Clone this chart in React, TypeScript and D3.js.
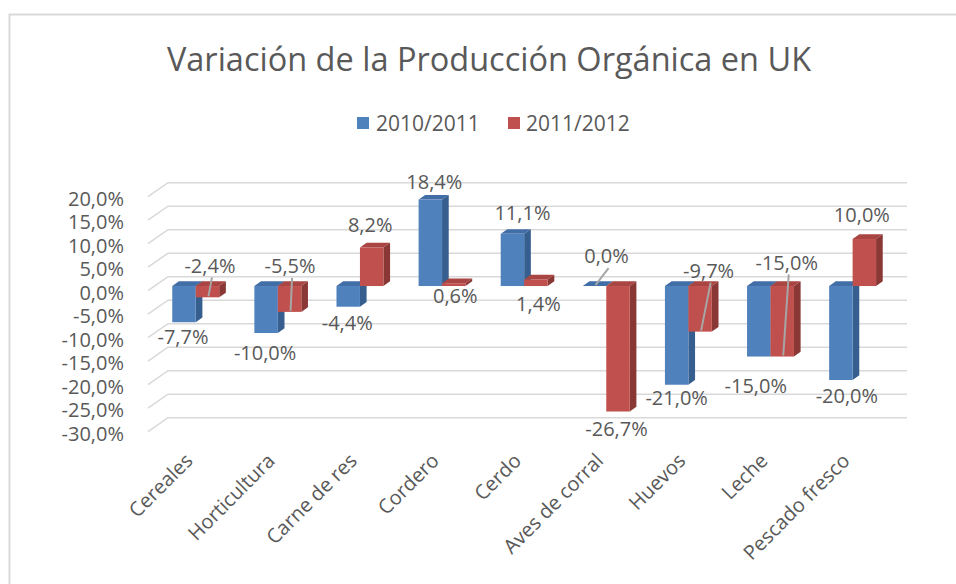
import * as d3 from 'd3';

// chart data
const categories = ['Cereales', 'Horticultura', 'Carne de res', 'Cordero', 'Cerdo', 'Aves de corral', 'Huevos', 'Leche', 'Pescado fresco'];
const seriesNames = ['2010/2011', '2011/2012'];
const values2010 = [-7.7, -10.0, -4.4, 18.4, 11.1, 0.0, -21.0, -15.0, -20.0];
const values2011 = [-2.4, -5.5, 8.2, 0.6, 1.4, -26.7, -9.7, -15.0, 10.0];
const yTicks = [20, 15, 10, 5, 0, -5, -10, -15, -20, -25, -30];

// label nudges (px) from the bar end, as Excel placed them
const nudge2010 = [[-1, 15], [-1, 20], [-1, 16], [4, -18], [10, -21], [12, -30], [0, 13], [-3, 29], [6, 16]];
const nudge2011 = [[2.5, -32], [0.5, -46], [-1.5, -23], [1.5, 13], [2.5, 24], [-1.5, 17], [8.5, -61], [4.5, -94], [-2.5, -24]];
const leader2010 = [5];
const leader2011 = [0, 1, 6, 7];

const W = 956;
const H = 584;
const DX = 20; // depth offset of the floor
const DY = -14;
const Z0 = 1 / 3;
const Z1 = 2 / 3;
const FONT = "'Open Sans', sans-serif";
const TEXT = '#595959';

const palette = [
  { front: '#4f81bd', top: '#416ea6', side: '#365e8f' },
  { front: '#c0504d', top: '#a94542', side: '#8a3836' },
];

const locale = d3.formatLocale({ decimal: ',', thousands: '.', grouping: [3], currency: ['', '€'], minus: '-' });
const fmt = (v: number) => locale.format('.1f')(v) + '%';

const x = d3.scaleBand<string>().domain(categories).range([148, 887]);
const xInner = d3.scaleBand<string>().domain(seriesNames).range([0, x.bandwidth()]).paddingInner(0).paddingOuter(0.75);
const y = d3.scaleLinear().domain([-30, 20]).range([431.7, 196.7]);

const proj = (px: number, v: number, z: number): [number, number] => [px + z * DX, y(v) + z * DY];
const pts = (list: [number, number][]) => list.map(p => p.join(',')).join(' ');

export default function App() {
  const bw = xInner.bandwidth();
  const allSeries = [values2010, values2011];
  const nudges = [nudge2010, nudge2011];
  const leaders = [leader2010, leader2011];

  const bars: JSX.Element[] = [];
  const labels: JSX.Element[] = [];

  categories.forEach((c, i) => {
    seriesNames.forEach((s, si) => {
      const v = allSeries[si][i];
      const x0 = (x(c) as number) + (xInner(s) as number);
      const x1 = x0 + bw;
      const top = Math.max(0, v);
      const bot = Math.min(0, v);
      const col = palette[si];
      const [fx0, fy0] = proj(x0, top, Z0);
      const [fx1, fy1] = proj(x1, bot, Z0);
      bars.push(
        <g key={`${c}-${s}`}>
          <polygon points={pts([proj(x0, top, Z0), proj(x1, top, Z0), proj(x1, top, Z1), proj(x0, top, Z1)])} fill={col.top} />
          <polygon points={pts([proj(x1, top, Z0), proj(x1, top, Z1), proj(x1, bot, Z1), proj(x1, bot, Z0)])} fill={col.side} />
          {v !== 0 && <rect x={fx0} y={fy0} width={fx1 - fx0} height={fy1 - fy0} fill={col.front} />}
        </g>
      );

      const [ax, ay] = proj(x0 + bw / 2, v, Z0);
      const [nx, ny] = nudges[si][i];
      const lx = ax + nx;
      const ly = ay + ny;
      labels.push(
        <g key={`l-${c}-${s}`}>
          {leaders[si].includes(i) && (
            <line x1={lx + 2} y1={ly + 12} x2={ax + 1} y2={ay - 1} stroke="#a6a6a6" strokeWidth={2} />
          )}
          <text x={lx} y={ly} dy="0.36em" textAnchor="middle" fontSize={20} fill={TEXT}>{fmt(v)}</text>
        </g>
      );
    });
  });

  return (
    <svg width={W} height={H} style={{ position: 'absolute', left: 0, top: 0 }} fontFamily={FONT}>
      <rect x={0} y={0} width={W} height={H} fill="#fff" />
      <rect x={9.5} y={14.5} width={W + 20} height={H + 20} fill="#fff" stroke="#d9d9d9" strokeWidth={2} />

      <text x={489} y={71} textAnchor="middle" fontSize={32.5} fill={TEXT}>Variación de la Producción Orgánica en UK</text>

      {/* legend */}
      <rect x={357} y={117} width={12} height={12} fill={palette[0].front} />
      <text x={376} y={131} fontSize={21} fill={TEXT}>{seriesNames[0]}</text>
      <rect x={508} y={117} width={12} height={12} fill={palette[1].front} />
      <text x={526} y={131} fontSize={21} fill={TEXT}>{seriesNames[1]}</text>

      {/* side wall + back wall gridlines */}
      {yTicks.map(t => (
        <polyline key={t} points={pts([proj(148, t, 0), proj(148, t, 1), proj(887, t, 1)])} fill="none" stroke="#d9d9d9" strokeWidth={1.6} />
      ))}

      {yTicks.map(t => (
        <text key={`yt${t}`} x={124} y={y(t) + 2} dy="0.36em" textAnchor="end" fontSize={20} fill={TEXT}>{fmt(t)}</text>
      ))}

      {bars}
      {labels}

      {categories.map(c => {
        const cx = (x(c) as number) + x.bandwidth() / 2 + 5;
        const cy = 462;
        return (
          <text key={`c-${c}`} x={cx} y={cy} textAnchor="end" fontSize={20} fill={TEXT} transform={`rotate(-45 ${cx} ${cy})`}>{c}</text>
        );
      })}
    </svg>
  );
}
